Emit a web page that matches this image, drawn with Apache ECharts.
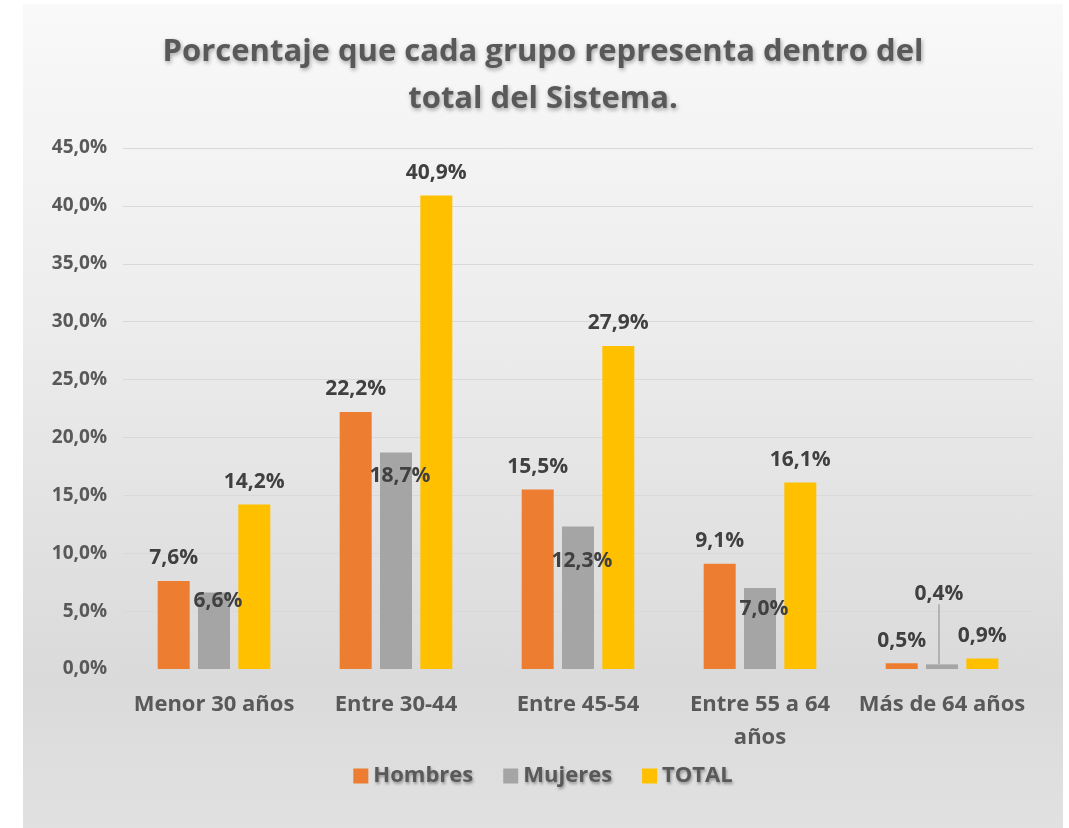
<!DOCTYPE html>
<html>
<head>
<meta charset="utf-8">
<script src="https://cdn.jsdelivr.net/npm/echarts@6/dist/echarts.min.js"></script>
<style>
  html, body { margin: 0; padding: 0; background: #fff; }
  #wrap { position: relative; width: 1069px; height: 828px; background: #fff; }
  #main {
    position: absolute; left: 23px; top: 4px; width: 1040px; height: 824px;
    background: linear-gradient(to bottom, #f9f9f9 0%, #eeeeee 35%, #dadada 82%, #e1e1e1 100%);
  }
</style>
</head>
<body>
<div id="wrap"><div id="main"></div></div>
<script>
// datos
const categorias = ['Menor 30 años', 'Entre 30-44', 'Entre 45-54', 'Entre 55 a 64\naños', 'Más de 64 años'];
const hombres = [7.6, 22.2, 15.5, 9.1, 0.5];
const mujeres = [6.6, 18.7, 12.3, 7.0, 0.4];
const total = [14.2, 40.9, 27.9, 16.1, 0.9];
const ticksY = [0, 5, 10, 15, 20, 25, 30, 35, 40, 45];

const fmt = v => v.toFixed(1).replace('.', ',') + '%';
const font = '"Open Sans", "Liberation Sans", sans-serif';

const labelStyle = {
  show: true,
  fontFamily: font,
  fontWeight: 'bold',
  fontSize: 21,
  color: '#404040',
  formatter: p => fmt(p.value)
};

// desplazamientos de etiquetas de Mujeres (como en el original)
const mujDy = [24, 39, 50, 37, -55];

const chart = echarts.init(document.getElementById('main'));
chart.setOption({
  animation: false,
  textStyle: { fontFamily: font },
  title: {
    text: 'Porcentaje que cada grupo representa dentro del\ntotal del Sistema.',
    left: 'center',
    top: 20,
    textStyle: {
      fontFamily: font,
      fontWeight: 'bold',
      fontSize: 31,
      lineHeight: 47,
      color: '#595959',
      textShadowColor: 'rgba(0,0,0,0.35)',
      textShadowBlur: 4,
      textShadowOffsetX: 1,
      textShadowOffsetY: 2
    }
  },
  legend: {
    bottom: 36,
    left: 'center',
    itemWidth: 15,
    itemHeight: 15,
    itemGap: 30,
    icon: 'rect',
    textStyle: {
      fontFamily: font,
      fontWeight: 'bold',
      fontSize: 22,
      color: '#595959',
      textShadowColor: 'rgba(0,0,0,0.35)',
      textShadowBlur: 3,
      textShadowOffsetX: 1,
      textShadowOffsetY: 2
    },
    data: ['Hombres', 'Mujeres', 'TOTAL']
  },
  grid: { left: 100, right: 30, top: 144, bottom: 159 },
  xAxis: {
    type: 'category',
    data: categorias,
    axisTick: { show: false },
    axisLine: { lineStyle: { color: '#d9d9d9' } },
    axisLabel: {
      fontFamily: font,
      fontWeight: 'bold',
      fontSize: 22,
      lineHeight: 33,
      color: '#595959',
      margin: 19,
      interval: 0
    }
  },
  yAxis: {
    type: 'value',
    min: ticksY[0],
    max: ticksY[ticksY.length - 1],
    interval: 5,
    axisLine: { show: false },
    axisTick: { show: false },
    splitLine: { lineStyle: { color: '#d9d9d9' } },
    axisLabel: {
      fontFamily: font,
      fontWeight: 'bold',
      fontSize: 19,
      color: '#595959',
      margin: 16,
      formatter: v => fmt(v)
    }
  },
  series: [
    {
      name: 'Hombres', type: 'bar', data: hombres,
      barWidth: 32, barGap: '26%',
      itemStyle: { color: '#ED7D31' },
      label: Object.assign({}, labelStyle, { position: 'top', distance: 12 })
    },
    {
      name: 'Mujeres', type: 'bar',
      data: mujeres.map((v, i) => i === 4
        ? { value: v, labelLine: { show: true, lineStyle: { color: '#a5a5a5', width: 1.5 } } }
        : v),
      barWidth: 32,
      itemStyle: { color: '#A5A5A5' },
      label: Object.assign({}, labelStyle, { position: 'top', distance: 5 }),
      labelLayout: p => ({ dy: mujDy[p.dataIndex], dx: p.dataIndex === 4 ? -3 : 4 })
    },
    {
      name: 'TOTAL', type: 'bar', data: total,
      barWidth: 32,
      itemStyle: { color: '#FFC000' },
      label: Object.assign({}, labelStyle, { position: 'top', distance: 12 })
    }
  ]
});
</script>
</body>
</html>
